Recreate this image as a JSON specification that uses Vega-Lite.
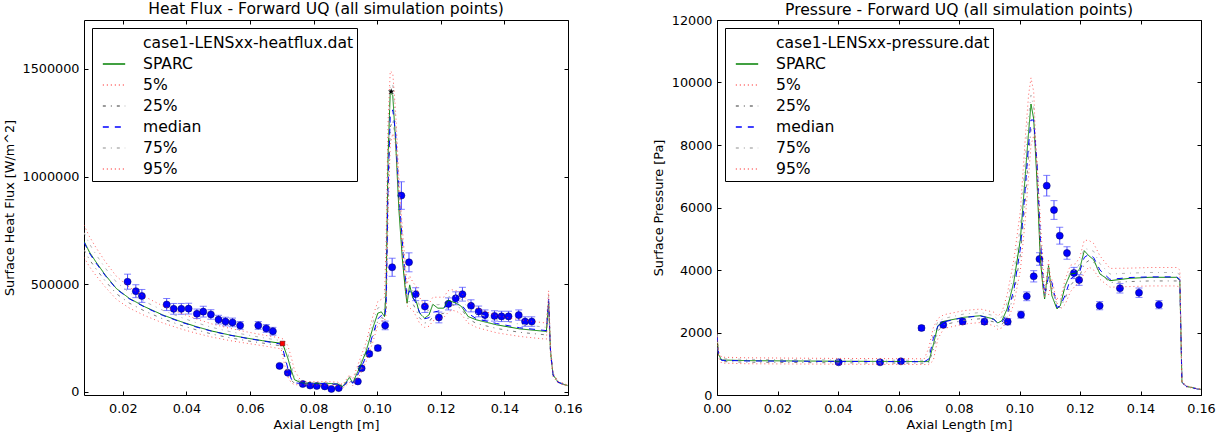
{
"$schema": "https://vega.github.io/schema/vega-lite/v6.json",
"padding": {"left": 2, "top": 1, "right": 5, "bottom": 0},
"config": {
  "font": "DejaVu Sans",
  "view": {"stroke": "black", "strokeWidth": 1},
  "axis": {"grid": false, "domain": false, "tickColor": "black", "tickSize": -4, "labelFontSize": 12.8, "labelColor": "black", "labelPadding": 9, "titleFontSize": 12.8, "titleFontWeight": "normal", "titleColor": "black", "titlePadding": 6, "labelFlush": false, "labelOverlap": false},
  "axisX": {"labelPadding": 11, "titlePadding": 4},
  "title": {"fontSize": 15.6, "fontWeight": "normal", "offset": 2, "color": "black"},
  "legend": {"orient": "top-left", "offset": 8, "symbolType": "stroke", "symbolSize": 500, "symbolStrokeWidth": 1.3, "labelFontSize": 15.6, "labelColor": "black", "strokeColor": "black", "fillColor": "white", "padding": 3, "rowPadding": 0, "symbolOffset": 7, "labelOffset": 17, "cornerRadius": 0, "labelLimit": 400}
},
"datasets": {
  "hf": [
    {"x":0.0078,"SPARC":700000,"5%":625000,"25%":660000,"median":695000,"75%":740000,"95%":775000},
    {"x":0.0095,"SPARC":650000,"5%":582000,"25%":615000,"median":645000,"75%":688000,"95%":722000},
    {"x":0.0115,"SPARC":605000,"5%":542000,"25%":573000,"median":600000,"75%":640000,"95%":672000},
    {"x":0.0145,"SPARC":543000,"5%":487000,"25%":515000,"median":540000,"75%":575000,"95%":605000},
    {"x":0.018,"SPARC":480000,"5%":430000,"25%":456000,"median":478000,"75%":510000,"95%":537000},
    {"x":0.022,"SPARC":435000,"5%":390000,"25%":413000,"median":433000,"75%":462000,"95%":487000},
    {"x":0.027,"SPARC":395000,"5%":354000,"25%":375000,"median":393000,"75%":419000,"95%":442000},
    {"x":0.0325,"SPARC":358000,"5%":321000,"25%":340000,"median":356000,"75%":380000,"95%":400000},
    {"x":0.038,"SPARC":328000,"5%":294000,"25%":311000,"median":326000,"75%":348000,"95%":367000},
    {"x":0.043,"SPARC":304000,"5%":273000,"25%":289000,"median":302000,"75%":322000,"95%":340000},
    {"x":0.048,"SPARC":283000,"5%":255000,"25%":269000,"median":282000,"75%":300000,"95%":316000},
    {"x":0.0535,"SPARC":265000,"5%":239000,"25%":252000,"median":264000,"75%":281000,"95%":296000},
    {"x":0.059,"SPARC":250000,"5%":226000,"25%":238000,"median":249000,"75%":265000,"95%":279000},
    {"x":0.064,"SPARC":238000,"5%":215000,"25%":227000,"median":237000,"75%":252000,"95%":265000},
    {"x":0.0698,"SPARC":226000,"5%":200000,"25%":214000,"median":222000,"75%":238000,"95%":250000},
    {"x":0.0705,"SPARC":215000,"5%":150000,"25%":180000,"median":190000,"75%":228000,"95%":245000},
    {"x":0.0719,"SPARC":157000,"5%":70000,"25%":100000,"median":110000,"75%":180000,"95%":215000},
    {"x":0.073,"SPARC":100000,"5%":42000,"25%":55000,"median":60000,"75%":120000,"95%":160000},
    {"x":0.074,"SPARC":57000,"5%":34000,"25%":40000,"median":42000,"75%":70000,"95%":100000},
    {"x":0.0761,"SPARC":42000,"5%":33000,"25%":37000,"median":40000,"75%":45000,"95%":50000},
    {"x":0.08,"SPARC":40000,"5%":32000,"25%":36000,"median":39000,"75%":43000,"95%":48000},
    {"x":0.084,"SPARC":40000,"5%":32000,"25%":36000,"median":39000,"75%":43000,"95%":48000},
    {"x":0.0875,"SPARC":38000,"5%":30000,"25%":34000,"median":36000,"75%":41000,"95%":46000},
    {"x":0.0892,"SPARC":26000,"5%":18000,"25%":22000,"median":24000,"75%":30000,"95%":34000},
    {"x":0.0913,"SPARC":68000,"5%":45000,"25%":55000,"median":60000,"75%":72000,"95%":80000},
    {"x":0.0923,"SPARC":42000,"5%":30000,"25%":36000,"median":40000,"75%":48000,"95%":60000},
    {"x":0.0944,"SPARC":111000,"5%":75000,"25%":90000,"median":95000,"75%":125000,"95%":145000},
    {"x":0.0965,"SPARC":188000,"5%":140000,"25%":160000,"median":165000,"75%":205000,"95%":230000},
    {"x":0.0986,"SPARC":296000,"5%":230000,"25%":255000,"median":265000,"75%":320000,"95%":350000},
    {"x":0.1002,"SPARC":366000,"5%":310000,"25%":330000,"median":340000,"75%":390000,"95%":420000},
    {"x":0.1013,"SPARC":372000,"5%":330000,"25%":345000,"median":355000,"75%":395000,"95%":430000},
    {"x":0.1023,"SPARC":350000,"5%":330000,"25%":340000,"median":345000,"75%":380000,"95%":440000},
    {"x":0.1028,"SPARC":466000,"5%":360000,"25%":390000,"median":400000,"75%":600000,"95%":700000},
    {"x":0.1034,"SPARC":1083000,"5%":800000,"25%":900000,"median":950000,"75%":1150000,"95%":1250000},
    {"x":0.1041,"SPARC":1392000,"5%":1150000,"25%":1230000,"median":1280000,"75%":1420000,"95%":1490000},
    {"x":0.1049,"SPARC":1376000,"5%":1200000,"25%":1260000,"median":1310000,"75%":1430000,"95%":1480000},
    {"x":0.1058,"SPARC":1160000,"5%":1150000,"25%":1180000,"median":1200000,"75%":1250000,"95%":1300000},
    {"x":0.1068,"SPARC":852000,"5%":900000,"25%":910000,"median":930000,"75%":960000,"95%":1000000},
    {"x":0.1079,"SPARC":620000,"5%":650000,"25%":680000,"median":700000,"75%":720000,"95%":760000},
    {"x":0.1089,"SPARC":466000,"5%":480000,"25%":500000,"median":520000,"75%":540000,"95%":580000},
    {"x":0.1094,"SPARC":412000,"5%":400000,"25%":420000,"median":440000,"75%":460000,"95%":500000},
    {"x":0.1102,"SPARC":497000,"5%":390000,"25%":420000,"median":470000,"75%":500000,"95%":540000},
    {"x":0.1112,"SPARC":435000,"5%":380000,"25%":410000,"median":440000,"75%":470000,"95%":510000},
    {"x":0.1123,"SPARC":420000,"5%":350000,"25%":380000,"median":410000,"75%":450000,"95%":490000},
    {"x":0.1133,"SPARC":366000,"5%":320000,"25%":345000,"median":370000,"75%":400000,"95%":440000},
    {"x":0.1149,"SPARC":343000,"5%":300000,"25%":320000,"median":340000,"75%":370000,"95%":400000},
    {"x":0.1163,"SPARC":358000,"5%":305000,"25%":325000,"median":345000,"75%":380000,"95%":410000},
    {"x":0.1175,"SPARC":407000,"5%":330000,"25%":350000,"median":370000,"75%":410000,"95%":440000},
    {"x":0.1191,"SPARC":389000,"5%":340000,"25%":360000,"median":375000,"75%":405000,"95%":440000},
    {"x":0.1209,"SPARC":389000,"5%":345000,"25%":365000,"median":385000,"75%":410000,"95%":440000},
    {"x":0.1223,"SPARC":427000,"5%":370000,"25%":395000,"median":415000,"75%":440000,"95%":470000},
    {"x":0.1234,"SPARC":420000,"5%":380000,"25%":405000,"median":425000,"75%":445000,"95%":475000},
    {"x":0.1249,"SPARC":412000,"5%":375000,"25%":400000,"median":420000,"75%":445000,"95%":470000},
    {"x":0.1265,"SPARC":397000,"5%":360000,"25%":385000,"median":405000,"75%":430000,"95%":460000},
    {"x":0.1286,"SPARC":350000,"5%":320000,"25%":340000,"median":365000,"75%":390000,"95%":420000},
    {"x":0.1312,"SPARC":335000,"5%":300000,"25%":318000,"median":340000,"75%":365000,"95%":390000},
    {"x":0.1375,"SPARC":312000,"5%":275000,"25%":295000,"median":318000,"75%":335000,"95%":355000},
    {"x":0.1448,"SPARC":293000,"5%":258000,"25%":277000,"median":298000,"75%":315000,"95%":335000},
    {"x":0.1532,"SPARC":281000,"5%":245000,"25%":265000,"median":285000,"75%":300000,"95%":320000},
    {"x":0.1539,"SPARC":420000,"5%":400000,"25%":420000,"median":430000,"75%":450000,"95%":470000},
    {"x":0.1545,"SPARC":188000,"5%":170000,"25%":180000,"median":190000,"75%":200000,"95%":210000},
    {"x":0.1553,"SPARC":80000,"5%":72000,"25%":76000,"median":80000,"75%":84000,"95%":88000},
    {"x":0.1569,"SPARC":45000,"5%":41000,"25%":43000,"median":45000,"75%":47000,"95%":50000},
    {"x":0.16,"SPARC":29000,"5%":26000,"25%":27500,"median":29000,"75%":30500,"95%":32000}
  ],
  "hfpts": [
    {"x":0.0215,"y":512000,"lo":477000,"hi":547000},
    {"x":0.0241,"y":468000,"lo":438000,"hi":498000},
    {"x":0.026,"y":446000,"lo":416000,"hi":476000},
    {"x":0.0338,"y":406000,"lo":378000,"hi":434000},
    {"x":0.036,"y":386000,"lo":361000,"hi":411000},
    {"x":0.0384,"y":386000,"lo":361000,"hi":411000},
    {"x":0.0407,"y":387000,"lo":362000,"hi":412000},
    {"x":0.0433,"y":363000,"lo":341000,"hi":385000},
    {"x":0.0453,"y":373000,"lo":348000,"hi":398000},
    {"x":0.0477,"y":360000,"lo":338000,"hi":382000},
    {"x":0.0501,"y":336000,"lo":316000,"hi":356000},
    {"x":0.0523,"y":327000,"lo":307000,"hi":347000},
    {"x":0.0545,"y":323000,"lo":303000,"hi":343000},
    {"x":0.0569,"y":309000,"lo":291000,"hi":327000},
    {"x":0.0626,"y":309000,"lo":291000,"hi":327000},
    {"x":0.0651,"y":295000,"lo":277000,"hi":313000},
    {"x":0.0672,"y":282000,"lo":264000,"hi":300000},
    {"x":0.0693,"y":121000,"lo":114000,"hi":128000},
    {"x":0.0719,"y":89000,"lo":84000,"hi":94000},
    {"x":0.0766,"y":37000,"lo":34000,"hi":40000},
    {"x":0.0789,"y":30000,"lo":27000,"hi":33000},
    {"x":0.081,"y":28000,"lo":25000,"hi":31000},
    {"x":0.0835,"y":26000,"lo":23000,"hi":29000},
    {"x":0.0856,"y":14000,"lo":12000,"hi":16000},
    {"x":0.0879,"y":18000,"lo":16000,"hi":20000},
    {"x":0.0939,"y":49000,"lo":45000,"hi":53000},
    {"x":0.0951,"y":110000,"lo":103000,"hi":117000},
    {"x":0.0975,"y":177000,"lo":167000,"hi":187000},
    {"x":0.1002,"y":204000,"lo":192000,"hi":216000},
    {"x":0.1025,"y":309000,"lo":289000,"hi":329000},
    {"x":0.1047,"y":579000,"lo":537000,"hi":621000},
    {"x":0.1076,"y":912000,"lo":848000,"hi":976000},
    {"x":0.11,"y":602000,"lo":558000,"hi":646000},
    {"x":0.1121,"y":454000,"lo":424000,"hi":484000},
    {"x":0.115,"y":397000,"lo":369000,"hi":425000},
    {"x":0.1194,"y":346000,"lo":321000,"hi":371000},
    {"x":0.1224,"y":409000,"lo":381000,"hi":437000},
    {"x":0.1247,"y":435000,"lo":405000,"hi":465000},
    {"x":0.1268,"y":454000,"lo":422000,"hi":486000},
    {"x":0.1295,"y":400000,"lo":372000,"hi":428000},
    {"x":0.1319,"y":374000,"lo":349000,"hi":399000},
    {"x":0.1339,"y":357000,"lo":333000,"hi":381000},
    {"x":0.1369,"y":353000,"lo":329000,"hi":377000},
    {"x":0.1391,"y":351000,"lo":327000,"hi":375000},
    {"x":0.1413,"y":351000,"lo":327000,"hi":375000},
    {"x":0.1445,"y":357000,"lo":333000,"hi":381000},
    {"x":0.1465,"y":327000,"lo":305000,"hi":349000},
    {"x":0.1486,"y":327000,"lo":305000,"hi":349000}
  ],
  "hfstar": [{"x":0.1044,"y":1395000}],
  "hfsq": [{"x":0.0702,"y":225000}],
  "pr": [
    {"x":0.0,"SPARC":1900,"5%":1800,"25%":1850,"median":1900,"75%":1950,"95%":2000},
    {"x":0.0005,"SPARC":1300,"5%":1200,"25%":1250,"median":1290,"75%":1350,"95%":1400},
    {"x":0.0015,"SPARC":1120,"5%":1020,"25%":1070,"median":1110,"75%":1160,"95%":1210},
    {"x":0.01,"SPARC":1100,"5%":1000,"25%":1050,"median":1090,"75%":1140,"95%":1190},
    {"x":0.04,"SPARC":1080,"5%":985,"25%":1030,"median":1075,"75%":1120,"95%":1170},
    {"x":0.0685,"SPARC":1070,"5%":975,"25%":1020,"median":1065,"75%":1110,"95%":1160},
    {"x":0.07,"SPARC":1070,"5%":975,"25%":1030,"median":1150,"75%":1300,"95%":1500},
    {"x":0.0715,"SPARC":1600,"5%":1100,"25%":1450,"median":1800,"75%":1950,"95%":2150},
    {"x":0.073,"SPARC":2218,"5%":1800,"25%":2050,"median":2200,"75%":2350,"95%":2450},
    {"x":0.075,"SPARC":2358,"5%":2130,"25%":2250,"median":2340,"75%":2450,"95%":2570},
    {"x":0.0816,"SPARC":2486,"5%":2270,"25%":2390,"median":2480,"75%":2590,"95%":2700},
    {"x":0.0871,"SPARC":2538,"5%":2320,"25%":2440,"median":2530,"75%":2640,"95%":2750},
    {"x":0.0915,"SPARC":2432,"5%":2220,"25%":2340,"median":2420,"75%":2540,"95%":2650},
    {"x":0.0928,"SPARC":2304,"5%":2100,"25%":2200,"median":2300,"75%":2420,"95%":2520},
    {"x":0.0942,"SPARC":2380,"5%":2150,"25%":2250,"median":2330,"75%":2500,"95%":2650},
    {"x":0.0959,"SPARC":2752,"5%":2350,"25%":2500,"median":2600,"75%":2950,"95%":3200},
    {"x":0.0981,"SPARC":3606,"5%":2900,"25%":3200,"median":3350,"75%":3900,"95%":4300},
    {"x":0.1003,"SPARC":4992,"5%":4000,"25%":4500,"median":4700,"75%":5400,"95%":5900},
    {"x":0.1019,"SPARC":7018,"5%":5600,"25%":6200,"median":6600,"75%":7500,"95%":8200},
    {"x":0.103,"SPARC":8406,"5%":7000,"25%":7700,"median":8000,"75%":8900,"95%":9600},
    {"x":0.1038,"SPARC":9312,"5%":8000,"25%":8500,"median":8800,"75%":9600,"95%":10150},
    {"x":0.1047,"SPARC":8832,"5%":8300,"25%":8600,"median":8800,"75%":9200,"95%":9700},
    {"x":0.1058,"SPARC":6806,"5%":7500,"25%":7300,"median":7400,"75%":7200,"95%":7000},
    {"x":0.1069,"SPARC":4352,"5%":5600,"25%":5100,"median":5000,"75%":4700,"95%":4500},
    {"x":0.1077,"SPARC":3498,"5%":4300,"25%":3900,"median":3800,"75%":3600,"95%":3500},
    {"x":0.1083,"SPARC":3072,"5%":3300,"25%":3150,"median":3200,"75%":3100,"95%":3150},
    {"x":0.1096,"SPARC":4138,"5%":3200,"25%":3700,"median":3800,"75%":4100,"95%":4300},
    {"x":0.1107,"SPARC":3178,"5%":3700,"25%":3500,"median":3600,"75%":3400,"95%":3300},
    {"x":0.1124,"SPARC":2752,"5%":2950,"25%":2850,"median":2800,"75%":2900,"95%":3100},
    {"x":0.1135,"SPARC":2860,"5%":2750,"25%":2800,"median":2850,"75%":2950,"95%":3050},
    {"x":0.1151,"SPARC":3498,"5%":2900,"25%":3100,"median":3200,"75%":3500,"95%":3700},
    {"x":0.1168,"SPARC":3872,"5%":3300,"25%":3500,"median":3700,"75%":3950,"95%":4150},
    {"x":0.1185,"SPARC":3900,"5%":3500,"25%":3700,"median":3850,"75%":4000,"95%":4200},
    {"x":0.1199,"SPARC":4032,"5%":3600,"25%":3800,"median":3950,"75%":4200,"95%":4400},
    {"x":0.1214,"SPARC":4618,"5%":3900,"25%":4200,"median":4400,"75%":4700,"95%":4950},
    {"x":0.1229,"SPARC":4458,"5%":4100,"25%":4300,"median":4500,"75%":4650,"95%":4950},
    {"x":0.1245,"SPARC":4330,"5%":4000,"25%":4250,"median":4400,"75%":4600,"95%":4850},
    {"x":0.1266,"SPARC":3872,"5%":3700,"25%":3900,"median":4000,"75%":4200,"95%":4450},
    {"x":0.1299,"SPARC":3658,"5%":3450,"25%":3600,"median":3700,"75%":3870,"95%":4050},
    {"x":0.1365,"SPARC":3734,"5%":3470,"25%":3630,"median":3760,"75%":3900,"95%":4060},
    {"x":0.1431,"SPARC":3766,"5%":3490,"25%":3650,"median":3780,"75%":3920,"95%":4080},
    {"x":0.1519,"SPARC":3766,"5%":3490,"25%":3650,"median":3780,"75%":3920,"95%":4080},
    {"x":0.153,"SPARC":3658,"5%":3450,"25%":3600,"median":3700,"75%":3850,"95%":4000},
    {"x":0.1537,"SPARC":406,"5%":380,"25%":395,"median":400,"75%":420,"95%":440},
    {"x":0.1552,"SPARC":278,"5%":260,"25%":270,"median":275,"75%":285,"95%":295},
    {"x":0.159,"SPARC":192,"5%":180,"25%":185,"median":190,"75%":195,"95%":200},
    {"x":0.16,"SPARC":180,"5%":170,"25%":175,"median":180,"75%":185,"95%":190}
  ],
  "prpts": [
    {"x":0.0402,"y":1046,"lo":986,"hi":1106},
    {"x":0.0539,"y":1046,"lo":986,"hi":1106},
    {"x":0.0608,"y":1078,"lo":1018,"hi":1138},
    {"x":0.0676,"y":2144,"lo":2064,"hi":2224},
    {"x":0.0748,"y":2245,"lo":2155,"hi":2335},
    {"x":0.0812,"y":2350,"lo":2260,"hi":2440},
    {"x":0.0884,"y":2346,"lo":2256,"hi":2436},
    {"x":0.0961,"y":2346,"lo":2246,"hi":2446},
    {"x":0.1005,"y":2570,"lo":2460,"hi":2680},
    {"x":0.1024,"y":3158,"lo":3018,"hi":3298},
    {"x":0.1047,"y":3798,"lo":3618,"hi":3978},
    {"x":0.1066,"y":4352,"lo":4152,"hi":4552},
    {"x":0.109,"y":6698,"lo":6368,"hi":7028},
    {"x":0.1114,"y":5920,"lo":5620,"hi":6220},
    {"x":0.1133,"y":5098,"lo":4828,"hi":5368},
    {"x":0.1157,"y":4544,"lo":4344,"hi":4744},
    {"x":0.118,"y":3904,"lo":3724,"hi":4084},
    {"x":0.1197,"y":3680,"lo":3510,"hi":3850},
    {"x":0.1265,"y":2858,"lo":2728,"hi":2988},
    {"x":0.1332,"y":3414,"lo":3264,"hi":3564},
    {"x":0.1395,"y":3274,"lo":3124,"hi":3424},
    {"x":0.1461,"y":2890,"lo":2760,"hi":3020}
  ]
},
"spacing": 68,
"resolve": {"scale": {"color": "independent", "strokeDash": "independent", "x": "independent", "y": "independent"}},
"hconcat": [
  {
    "width": 484, "height": 375,
    "title": {"text": "Heat Flux - Forward UQ (all simulation points)"},
    "resolve": {"axis": {"x": "independent", "y": "independent"}},
    "layer": [
      {
        "data": {"name": "hfpts"},
        "mark": {"type": "rule", "color": "#4a4aff", "strokeWidth": 1},
        "encoding": {
          "x": {"field": "x", "type": "quantitative", "scale": {"domain": [0.0078, 0.16], "nice": false, "zero": false}, "axis": null},
          "y": {"field": "lo", "type": "quantitative", "scale": {"domain": [-14000, 1727000], "nice": false, "zero": false}, "axis": null},
          "y2": {"field": "hi"}
        }
      },
      {
        "data": {"name": "hfpts"},
        "mark": {"type": "tick", "orient": "horizontal", "size": 7, "thickness": 1, "color": "#4a4aff"},
        "encoding": {
          "x": {"field": "x", "type": "quantitative", "scale": {"domain": [0.0078, 0.16], "nice": false, "zero": false}, "axis": null},
          "y": {"field": "lo", "type": "quantitative", "scale": {"domain": [-14000, 1727000], "nice": false, "zero": false}, "axis": null}
        }
      },
      {
        "data": {"name": "hfpts"},
        "mark": {"type": "tick", "orient": "horizontal", "size": 7, "thickness": 1, "color": "#4a4aff"},
        "encoding": {
          "x": {"field": "x", "type": "quantitative", "scale": {"domain": [0.0078, 0.16], "nice": false, "zero": false}, "axis": null},
          "y": {"field": "hi", "type": "quantitative", "scale": {"domain": [-14000, 1727000], "nice": false, "zero": false}, "axis": null}
        }
      },
      {
        "data": {"name": "hfpts"},
        "mark": {"type": "circle", "size": 50, "color": "#0000ff", "opacity": 1, "stroke": "#000060", "strokeWidth": 0.5},
        "encoding": {
          "x": {"field": "x", "type": "quantitative", "scale": {"domain": [0.0078, 0.16], "nice": false, "zero": false}, "axis": {"orient": "top", "labels": false, "title": null, "values": [0.02,0.04,0.06,0.08,0.1,0.12,0.14,0.16]}},
          "y": {"field": "y", "type": "quantitative", "scale": {"domain": [-14000, 1727000], "nice": false, "zero": false}, "axis": {"orient": "right", "labels": false, "title": null, "values": [0,500000,1000000,1500000]}}
        }
      },
      {
        "data": {"name": "hf"},
        "transform": [{"fold": ["SPARC","5%","25%","median","75%","95%"], "as": ["series","value"]}],
        "mark": {"type": "line", "strokeWidth": 1, "clip": true},
        "encoding": {
          "x": {"field": "x", "type": "quantitative", "scale": {"domain": [0.0078, 0.16], "nice": false, "zero": false}, "axis": {"orient": "bottom", "title": "Axial Length [m]", "values": [0.02,0.04,0.06,0.08,0.1,0.12,0.14,0.16], "format": ".2f"}},
          "y": {"field": "value", "type": "quantitative", "scale": {"domain": [-14000, 1727000], "nice": false, "zero": false}, "axis": {"orient": "left", "title": "Surface Heat Flux [W/m^2]", "values": [0,500000,1000000,1500000], "format": "d"}},
          "color": {"field": "series", "type": "nominal", "title": null,
            "scale": {"domain": ["case1-LENSxx-heatflux.dat","SPARC","5%","25%","median","75%","95%"], "range": ["rgba(0,0,0,0)","#008000","rgba(255,40,40,0.75)","#7a7a7a","#0000ff","#b4b4b4","rgba(255,40,40,0.75)"]},
            "legend": {"orient": "top-left"}},
          "strokeDash": {"field": "series", "type": "nominal", "title": null,
            "scale": {"domain": ["case1-LENSxx-heatflux.dat","SPARC","5%","25%","median","75%","95%"], "range": [[1,0],[1,0],[1,3],[3,5,1,5],[6,6],[3,5,1,5],[1,3]]},
            "legend": {"orient": "top-left"}}
        }
      },
      {
        "data": {"name": "hfsq"},
        "mark": {"type": "point", "shape": "square", "filled": true, "size": 22, "color": "#ff0000", "stroke": "#400000", "strokeWidth": 0.5, "opacity": 1},
        "encoding": {
          "x": {"field": "x", "type": "quantitative", "scale": {"domain": [0.0078, 0.16], "nice": false, "zero": false}, "axis": null},
          "y": {"field": "y", "type": "quantitative", "scale": {"domain": [-14000, 1727000], "nice": false, "zero": false}, "axis": null}
        }
      },
      {
        "data": {"name": "hfstar"},
        "mark": {"type": "point", "shape": "M0,-1L0.235,-0.324L0.951,-0.309L0.38,0.124L0.588,0.809L0,0.4L-0.588,0.809L-0.38,0.124L-0.951,-0.309L-0.235,-0.324Z", "filled": true, "size": 45, "color": "black", "opacity": 1},
        "encoding": {
          "x": {"field": "x", "type": "quantitative", "scale": {"domain": [0.0078, 0.16], "nice": false, "zero": false}, "axis": null},
          "y": {"field": "y", "type": "quantitative", "scale": {"domain": [-14000, 1727000], "nice": false, "zero": false}, "axis": null}
        }
      }
    ]
  },
  {
    "width": 484, "height": 375,
    "title": {"text": "Pressure - Forward UQ (all simulation points)", "offset": -4.5},
    "resolve": {"axis": {"x": "independent", "y": "independent"}},
    "layer": [
      {
        "data": {"name": "prpts"},
        "mark": {"type": "rule", "color": "#4a4aff", "strokeWidth": 1},
        "encoding": {
          "x": {"field": "x", "type": "quantitative", "scale": {"domain": [0, 0.16], "nice": false, "zero": false}, "axis": null},
          "y": {"field": "lo", "type": "quantitative", "scale": {"domain": [0, 12000], "nice": false, "zero": false}, "axis": null},
          "y2": {"field": "hi"}
        }
      },
      {
        "data": {"name": "prpts"},
        "mark": {"type": "tick", "orient": "horizontal", "size": 7, "thickness": 1, "color": "#4a4aff"},
        "encoding": {
          "x": {"field": "x", "type": "quantitative", "scale": {"domain": [0, 0.16], "nice": false, "zero": false}, "axis": null},
          "y": {"field": "lo", "type": "quantitative", "scale": {"domain": [0, 12000], "nice": false, "zero": false}, "axis": null}
        }
      },
      {
        "data": {"name": "prpts"},
        "mark": {"type": "tick", "orient": "horizontal", "size": 7, "thickness": 1, "color": "#4a4aff"},
        "encoding": {
          "x": {"field": "x", "type": "quantitative", "scale": {"domain": [0, 0.16], "nice": false, "zero": false}, "axis": null},
          "y": {"field": "hi", "type": "quantitative", "scale": {"domain": [0, 12000], "nice": false, "zero": false}, "axis": null}
        }
      },
      {
        "data": {"name": "prpts"},
        "mark": {"type": "circle", "size": 50, "color": "#0000ff", "opacity": 1, "stroke": "#000060", "strokeWidth": 0.5},
        "encoding": {
          "x": {"field": "x", "type": "quantitative", "scale": {"domain": [0, 0.16], "nice": false, "zero": false}, "axis": {"orient": "top", "labels": false, "title": null, "values": [0,0.02,0.04,0.06,0.08,0.1,0.12,0.14,0.16]}},
          "y": {"field": "y", "type": "quantitative", "scale": {"domain": [0, 12000], "nice": false, "zero": false}, "axis": {"orient": "right", "labels": false, "title": null, "values": [0,2000,4000,6000,8000,10000,12000]}}
        }
      },
      {
        "data": {"name": "pr"},
        "transform": [{"fold": ["SPARC","5%","25%","median","75%","95%"], "as": ["series","value"]}],
        "mark": {"type": "line", "strokeWidth": 1, "clip": true},
        "encoding": {
          "x": {"field": "x", "type": "quantitative", "scale": {"domain": [0, 0.16], "nice": false, "zero": false}, "axis": {"orient": "bottom", "title": "Axial Length [m]", "values": [0,0.02,0.04,0.06,0.08,0.1,0.12,0.14,0.16], "format": ".2f"}},
          "y": {"field": "value", "type": "quantitative", "scale": {"domain": [0, 12000], "nice": false, "zero": false}, "axis": {"orient": "left", "title": "Surface Pressure [Pa]", "values": [0,2000,4000,6000,8000,10000,12000], "format": "d"}},
          "color": {"field": "series", "type": "nominal", "title": null,
            "scale": {"domain": ["case1-LENSxx-pressure.dat","SPARC","5%","25%","median","75%","95%"], "range": ["rgba(0,0,0,0)","#008000","rgba(255,40,40,0.75)","#7a7a7a","#0000ff","#b4b4b4","rgba(255,40,40,0.75)"]},
            "legend": {"orient": "top-left"}},
          "strokeDash": {"field": "series", "type": "nominal", "title": null,
            "scale": {"domain": ["case1-LENSxx-pressure.dat","SPARC","5%","25%","median","75%","95%"], "range": [[1,0],[1,0],[1,3],[3,5,1,5],[6,6],[3,5,1,5],[1,3]]},
            "legend": {"orient": "top-left"}}
        }
      }
    ]
  }
]
}
